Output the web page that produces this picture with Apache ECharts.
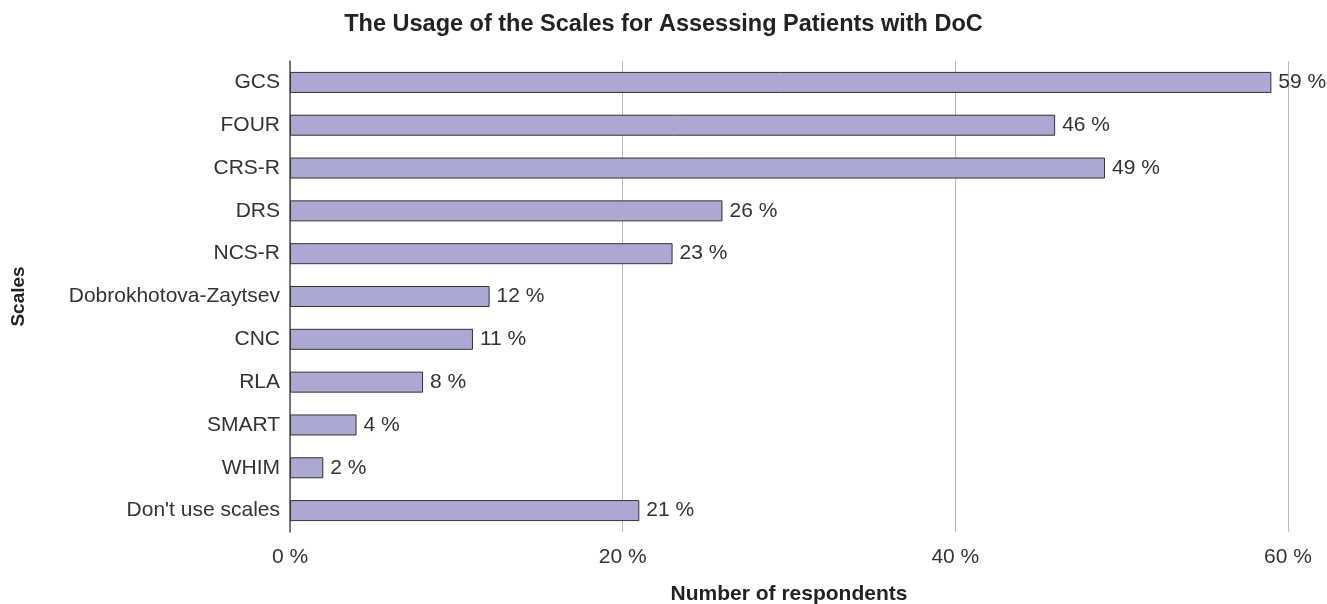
<!DOCTYPE html>
<html>
<head>
<meta charset="utf-8">
<script src="https://cdn.jsdelivr.net/npm/echarts@6/dist/echarts.min.js"></script>
<style>
  html, body { margin: 0; padding: 0; background: #fff; }
  #main { width: 1327px; height: 604px; }
</style>
</head>
<body>
<div id="main"></div>
<script>
// scales, top to bottom
var categories = ['GCS', 'FOUR', 'CRS-R', 'DRS', 'NCS-R', 'Dobrokhotova-Zaytsev', 'CNC', 'RLA', 'SMART', 'WHIM', "Don't use scales"];
var percents = [59, 46, 49, 26, 23, 12, 11, 8, 4, 2, 21];
var xTicks = [0, 20, 40, 60];

var font = 'Liberation Sans, Arial, sans-serif';
var myChart = echarts.init(document.getElementById('main'));
myChart.setOption({
    animation: false,
    textStyle: { fontFamily: font },
    title: {
        text: 'The Usage of the Scales for Assessing Patients with DoC',
        left: 'center',
        top: 8,
        textStyle: { fontSize: 23.5, fontWeight: 'bold', color: '#222', fontFamily: font }
    },
    grid: { left: 290, right: 39, top: 61, bottom: 72, outerBoundsMode: 'none', containLabel: false },
    xAxis: {
        type: 'value',
        min: xTicks[0],
        max: xTicks[xTicks.length - 1],
        interval: 20,
        name: 'Number of respondents',
        nameLocation: 'middle',
        nameGap: 52,
        nameTextStyle: { fontSize: 21, fontWeight: 'bold', color: '#222' },
        axisLine: { show: false },
        axisTick: { show: false },
        axisLabel: { formatter: '{value} %', fontSize: 21, color: '#333', margin: 15 },
        splitLine: { show: true, lineStyle: { color: '#bbb', width: 1 } }
    },
    yAxis: {
        type: 'category',
        data: categories,
        inverse: true,
        name: 'Scales',
        nameLocation: 'middle',
        nameGap: 262,
        nameRotate: 90,
        nameTextStyle: { fontSize: 19, fontWeight: 'bold', color: '#222' },
        axisLine: { show: true, lineStyle: { color: '#555', width: 1.5 } },
        axisTick: { show: false },
        axisLabel: { fontSize: 21, color: '#333', margin: 10 }
    },
    series: [{
        type: 'bar',
        data: percents,
        barWidth: 21,
        itemStyle: { color: '#aba8d4', borderColor: '#333', borderWidth: 1 },
        label: {
            show: true,
            position: 'right',
            distance: 7,
            formatter: '{c} %',
            fontSize: 21,
            color: '#333'
        }
    }]
});
</script>
</body>
</html>
